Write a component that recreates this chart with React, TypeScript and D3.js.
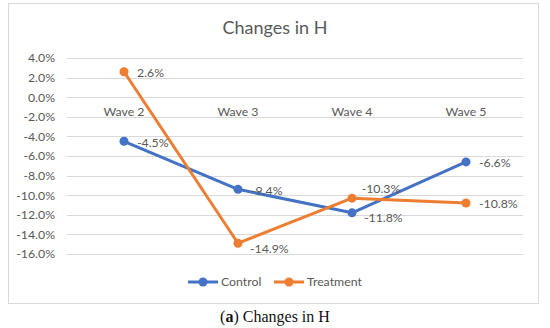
import * as d3 from 'd3'

const WAVES = ['Wave 2', 'Wave 3', 'Wave 4', 'Wave 5']
const CONTROL = [-4.5, -9.4, -11.8, -6.6]
const TREATMENT = [2.6, -14.9, -10.3, -10.8]
const Y_TICKS = [4, 2, 0, -2, -4, -6, -8, -10, -12, -14, -16]

const BLUE = '#4472c4'
const ORANGE = '#ed7d31'
const TEXT = '#595959'
const FONT = 'Lato, "Open Sans", sans-serif'

// where each data label sits next to its marker
const CONTROL_POS = ['right', 'right', 'belowRight', 'right']
const TREATMENT_POS = ['right', 'belowRight', 'above', 'right']

const fmt = (v: number) => `${v.toFixed(1)}%`

export default function App() {
  const width = 550
  const height = 328
  const plot = { left: 67, right: 523, top: 58, bottom: 254 }
  const fs = 12.3

  const x = d3.scaleBand<string>().domain(WAVES).range([plot.left, plot.right])
  const y = d3.scaleLinear().domain([4, -16]).range([plot.top, plot.bottom])
  const cx = (w: string) => (x(w) ?? 0) + x.bandwidth() / 2

  const line = d3
    .line<number>()
    .x((_, i) => cx(WAVES[i]))
    .y((d) => y(d))

  const series = [
    { name: 'Control', values: CONTROL, color: BLUE, pos: CONTROL_POS },
    { name: 'Treatment', values: TREATMENT, color: ORANGE, pos: TREATMENT_POS },
  ]

  const labelXY = (px: number, py: number, pos: string) => {
    if (pos === 'above') return { x: px + 29, y: py - 9, anchor: 'middle' }
    if (pos === 'belowRight') return { x: px + 12, y: py + 5, anchor: 'start' }
    return { x: px + 13, y: py + 1, anchor: 'start' }
  }

  return (
    <svg
      width={width}
      height={height}
      style={{ position: 'absolute', left: 0, top: 0, background: '#fff' }}
      fontFamily={FONT}
    >
      <rect x={8.5} y={3.5} width={530} height={300} fill="#fff" stroke="#d9d9d9" />
      <text x={275} y={34} textAnchor="middle" fontSize={18} fill={TEXT}>
        Changes in H
      </text>

      {Y_TICKS.map((t) => (
        <g key={t}>
          <line
            x1={plot.left}
            x2={plot.right}
            y1={Math.round(y(t)) + 0.5}
            y2={Math.round(y(t)) + 0.5}
            stroke="#d9d9d9"
            strokeWidth={1}
          />
          <text
            x={55}
            y={y(t)}
            dy="0.35em"
            textAnchor="end"
            fontSize={fs}
            fill={TEXT}
          >
            {fmt(t)}
          </text>
        </g>
      ))}

      {WAVES.map((w) => (
        <text key={w} x={cx(w)} y={y(0)} dy={19} textAnchor="middle" fontSize={fs} fill={TEXT}>
          {w}
        </text>
      ))}

      {series.map((s) => (
        <g key={s.name}>
          <path d={line(s.values) ?? ''} fill="none" stroke={s.color} strokeWidth={3} strokeLinejoin="round" />
          {s.values.map((v, i) => (
            <circle key={i} cx={cx(WAVES[i])} cy={y(v)} r={4.5} fill={s.color} />
          ))}
        </g>
      ))}

      {series.map((s) =>
        s.values.map((v, i) => {
          const p = labelXY(cx(WAVES[i]), y(v), s.pos[i])
          return (
            <text
              key={`${s.name}-${i}`}
              x={p.x}
              y={p.y}
              dy="0.35em"
              textAnchor={p.anchor}
              fontSize={fs}
              fill={TEXT}
            >
              {fmt(v)}
            </text>
          )
        }),
      )}

      {/* legend */}
      <g fontSize={fs} fill={TEXT}>
        <line x1={188} x2={218} y1={282} y2={282} stroke={BLUE} strokeWidth={3} />
        <circle cx={203} cy={282} r={4.5} fill={BLUE} />
        <text x={221} y={282} dy="0.35em">Control</text>
        <line x1={274} x2={304} y1={282} y2={282} stroke={ORANGE} strokeWidth={3} />
        <circle cx={289} cy={282} r={4.5} fill={ORANGE} />
        <text x={307} y={282} dy="0.35em">Treatment</text>
      </g>

      <text
        x={275}
        y={322}
        textAnchor="middle"
        fontSize={16}
        fill="#111"
        fontFamily='"Liberation Serif", "DejaVu Serif", serif'
      >
        (<tspan fontWeight="bold">a</tspan>) Changes in H
      </text>
    </svg>
  )
}
